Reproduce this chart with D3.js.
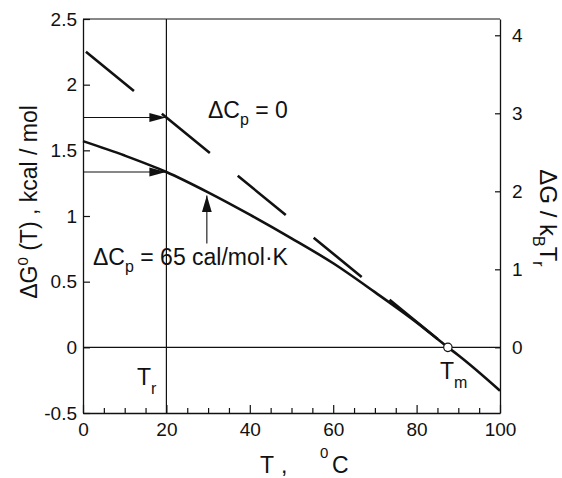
<!DOCTYPE html>
<html>
<head>
<meta charset="utf-8">
<script src="https://cdn.jsdelivr.net/npm/d3@7"></script>
<style>
body { margin: 0; background: #fff; }
text { font-family: "Liberation Sans", Arial, Helvetica, sans-serif; fill: #111; }
</style>
</head>
<body>
<svg id="fig" width="562" height="478"></svg>
<script>
// data
var temps = [0, 10, 20, 30, 40, 50, 60, 70, 80, 87.5, 90, 100]
var dG65 = [1.57, 1.46, 1.335, 1.18, 1.01, 0.83, 0.64, 0.42, 0.19, 0, -0.06, -0.33]
var temps0 = [0.7, 87.5]
var dG0 = [2.25, 0]
var leftTicks = [-0.5, 0, 0.5, 1, 1.5, 2, 2.5]
var rightTicks = [0, 1, 2, 3, 4]
var xTicks = [0, 20, 40, 60, 80, 100]
var xMinor = [5, 10, 15, 25, 30, 35, 45, 50, 55, 65, 70, 75, 85, 90, 95]
var kTr = 0.594   // kcal/mol, k_B T_r
var Tr = 20, Tm = 87.5
var gTr0 = 1.75, gTr65 = 1.335
var arrowT = 29.7, arrowFrom = 0.79, arrowTo = 1.157

var svg = d3.select('#fig')
var x = d3.scaleLinear().domain([0, 100]).range([83, 500])
var y = d3.scaleLinear().domain([-0.5, 2.5]).range([413, 19])
var yR = d3.scaleLinear().domain([-0.5 / kTr, 2.5 / kTr]).range([413, 19])

var defs = svg.append('defs')
defs.append('marker')
  .attr('id', 'headH')
  .attr('markerUnits', 'userSpaceOnUse')
  .attr('viewBox', '0 0 17 10')
  .attr('refX', 17).attr('refY', 5)
  .attr('markerWidth', 17).attr('markerHeight', 10)
  .attr('orient', 'auto')
  .append('path').attr('d', 'M0,0.5L17,5L0,9.5Z').attr('fill', '#111')
defs.append('marker')
  .attr('id', 'headV')
  .attr('markerUnits', 'userSpaceOnUse')
  .attr('viewBox', '0 0 17 11')
  .attr('refX', 17).attr('refY', 5.5)
  .attr('markerWidth', 17).attr('markerHeight', 11)
  .attr('orient', 'auto')
  .append('path').attr('d', 'M0,0.5L17,5.5L0,10.5Z').attr('fill', '#111')

// frame top
svg.append('line')
  .attr('x1', x(0)).attr('x2', x(100))
  .attr('y1', y(2.5)).attr('y2', y(2.5))
  .attr('stroke', '#111').attr('stroke-width', 1.2)

// zero line and T_r line
svg.append('line')
  .attr('x1', x(0)).attr('x2', x(100))
  .attr('y1', y(0)).attr('y2', y(0))
  .attr('stroke', '#111').attr('stroke-width', 1.2)
svg.append('line')
  .attr('x1', x(Tr)).attr('x2', x(Tr))
  .attr('y1', y(2.5)).attr('y2', y(-0.5))
  .attr('stroke', '#111').attr('stroke-width', 1.2)

function styleAxis(g, size) {
  g.selectAll('path').attr('stroke', '#111').attr('stroke-width', 1.3)
  g.selectAll('line').attr('stroke', '#111').attr('stroke-width', 1.2)
  g.selectAll('text').attr('font-size', size)
    .attr('font-family', '"Liberation Sans", Arial, sans-serif').attr('fill', '#111')
}

// axes
var gl = svg.append('g').attr('transform', 'translate(' + x(0) + ',0)')
  .call(d3.axisLeft(y).tickValues(leftTicks).tickSizeInner(-7).tickSizeOuter(0)
    .tickPadding(6).tickFormat(function(d) { return String(d) }))
styleAxis(gl, 19)

var gr = svg.append('g').attr('transform', 'translate(' + x(100) + ',0)')
  .call(d3.axisRight(yR).tickValues(rightTicks).tickSizeInner(-5).tickSizeOuter(0)
    .tickPadding(12).tickFormat(function(d) { return String(d) }))
styleAxis(gr, 19)

var gb = svg.append('g').attr('transform', 'translate(0,' + y(-0.5) + ')')
  .call(d3.axisBottom(x).tickValues(xTicks).tickSizeInner(-8).tickSizeOuter(0)
    .tickPadding(10).tickFormat(function(d) { return String(d) }))
styleAxis(gb, 19)
var gm = svg.append('g').attr('transform', 'translate(0,' + y(-0.5) + ')')
  .call(d3.axisBottom(x).tickValues(xMinor).tickSizeInner(-5).tickSizeOuter(0)
    .tickFormat(''))
gm.select('.domain').remove()
styleAxis(gm, 19)

// curves
var line65 = d3.line()
  .x(function(d, i) { return x(temps[i]) })
  .y(function(d) { return y(d) })
  .curve(d3.curveMonotoneX)
svg.append('path')
  .attr('d', line65(dG65))
  .attr('fill', 'none').attr('stroke', '#111').attr('stroke-width', 2.6)

var line0 = d3.line()
  .x(function(d, i) { return x(temps0[i]) })
  .y(function(d) { return y(d) })
svg.append('path')
  .attr('d', line0(dG0))
  .attr('fill', 'none').attr('stroke', '#111').attr('stroke-width', 2.6)
  .attr('stroke-dasharray', '62,36')

// arrows
svg.append('line')
  .attr('x1', x(0)).attr('x2', x(Tr))
  .attr('y1', y(gTr0)).attr('y2', y(gTr0))
  .attr('stroke', '#111').attr('stroke-width', 1.1)
  .attr('marker-end', 'url(#headH)')
svg.append('line')
  .attr('x1', x(0)).attr('x2', x(Tr))
  .attr('y1', y(gTr65)).attr('y2', y(gTr65))
  .attr('stroke', '#111').attr('stroke-width', 1.1)
  .attr('marker-end', 'url(#headH)')
svg.append('line')
  .attr('x1', x(arrowT)).attr('x2', x(arrowT))
  .attr('y1', y(arrowFrom)).attr('y2', y(arrowTo))
  .attr('stroke', '#111').attr('stroke-width', 1.1)
  .attr('marker-end', 'url(#headV)')

// T_m point
svg.append('circle')
  .attr('cx', x(Tm)).attr('cy', y(0)).attr('r', 4.2)
  .attr('fill', '#fff').attr('stroke', '#111').attr('stroke-width', 1.2)

// labels
var t1 = svg.append('text').attr('x', 208).attr('y', 118).attr('font-size', 23)
t1.append('tspan').text('\u0394C')
t1.append('tspan').attr('font-size', 16).attr('dy', 7).text('p')
t1.append('tspan').attr('dy', -7).text(' = 0')

var t2 = svg.append('text').attr('x', 93).attr('y', 265).attr('font-size', 23)
t2.append('tspan').text('\u0394C')
t2.append('tspan').attr('font-size', 16).attr('dy', 7).text('p')
t2.append('tspan').attr('dy', -7).text(' = 65 cal/mol\u00b7K')

var t3 = svg.append('text').attr('x', 137).attr('y', 385).attr('font-size', 23)
t3.append('tspan').text('T')
t3.append('tspan').attr('font-size', 16).attr('dy', 9).text('r')

var t4 = svg.append('text').attr('x', 440).attr('y', 379).attr('font-size', 23)
t4.append('tspan').text('T')
t4.append('tspan').attr('font-size', 16).attr('dy', 9).text('m')

// x title
svg.append('text').attr('x', 260).attr('y', 473).attr('font-size', 23).text('T')
svg.append('text').attr('x', 281).attr('y', 473).attr('font-size', 23).text(',')
svg.append('text').attr('x', 320).attr('y', 458).attr('font-size', 15).text('0')
svg.append('text').attr('x', 332).attr('y', 473).attr('font-size', 23).text('C')

// left title
var tl = svg.append('text')
  .attr('transform', 'translate(37,202) rotate(-90)')
  .attr('text-anchor', 'middle').attr('font-size', 23)
tl.append('tspan').text('\u0394G')
tl.append('tspan').attr('font-size', 15).attr('dy', -9).text('0')
tl.append('tspan').attr('dy', 9).text(' (T) ,  kcal / mol')

// right title
var tr = svg.append('text')
  .attr('transform', 'translate(540,218) rotate(90)')
  .attr('text-anchor', 'middle').attr('font-size', 24)
tr.append('tspan').text('\u0394G / k')
tr.append('tspan').attr('font-size', 16).attr('dy', 7).text('B')
tr.append('tspan').attr('dy', -7).text('T')
tr.append('tspan').attr('font-size', 16).attr('dy', 7).text('r')
</script>
</body>
</html>
